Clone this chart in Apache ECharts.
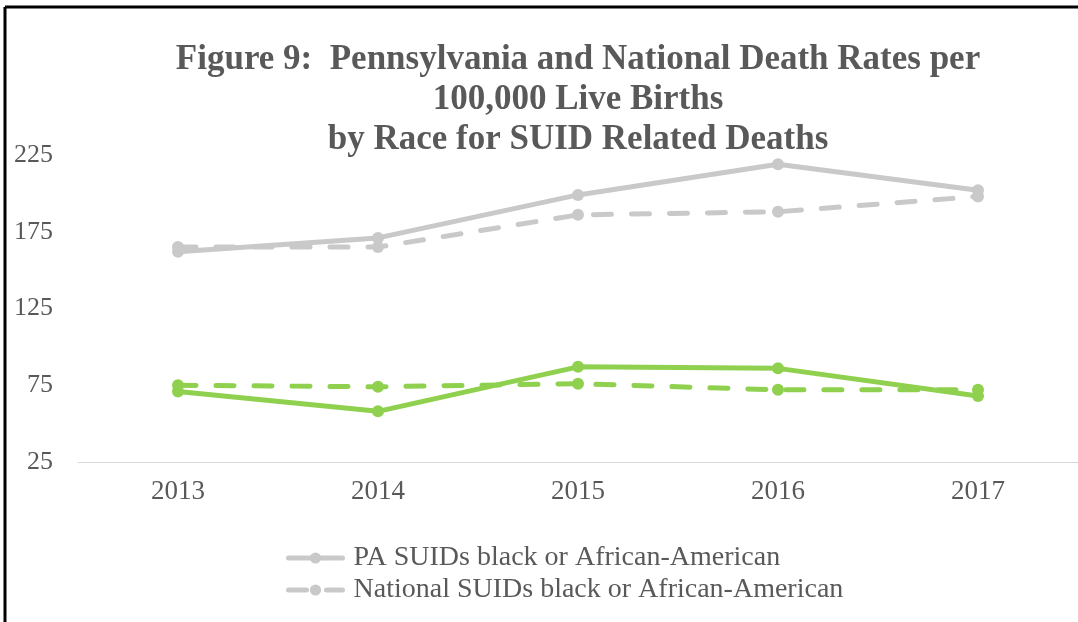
<!DOCTYPE html>
<html>
<head>
<meta charset="utf-8">
<script src="https://cdn.jsdelivr.net/npm/echarts@6/dist/echarts.min.js"></script>
<style>
  html, body { margin: 0; padding: 0; background: #fff; }
  #chart { width: 1078px; height: 622px; }
</style>
</head>
<body>
<div id="chart"></div>
<script>
// chart data
var years = ['2013', '2014', '2015', '2016', '2017']
var paBlack = [162, 171, 199, 219, 202]
var natBlack = [165, 165, 186, 188, 198]
var paWhite = [71, 58, 87, 86, 68]
var natWhite = [75, 74, 76, 72, 72]
var yTicks = [25, 75, 125, 175, 225]

var gray = '#c9c9c9'
var green = '#8fd14f'
var textColor = '#595959'
var serif = '"Liberation Serif", "Times New Roman", serif'

function lineSeries(name, data, color, dashed) {
  return {
    name: name,
    type: 'line',
    data: data,
    symbol: 'circle',
    symbolSize: 12,
    itemStyle: { color: color },
    lineStyle: {
      color: color,
      width: 5,
      type: dashed ? [18, 20] : 'solid',
      cap: 'round'
    },
    animation: false
  }
}

var chart = echarts.init(document.getElementById('chart'))
chart.setOption({
  backgroundColor: '#fff',
  title: {
    text: 'Figure 9:  Pennsylvania and National Death Rates per\n100,000 Live Births\nby Race for SUID Related Deaths',
    left: 573,
    top: 35,
    textAlign: 'center',
    textStyle: {
      fontFamily: serif,
      fontWeight: 'bold',
      fontSize: 35,
      lineHeight: 40,
      color: textColor
    }
  },
  graphic: [
    { type: 'line', shape: { x1: 5, y1: 7, x2: 1078, y2: 7 }, style: { stroke: '#000', lineWidth: 3 } },
    { type: 'line', shape: { x1: 5, y1: 7, x2: 5, y2: 622 }, style: { stroke: '#000', lineWidth: 3 } }
  ],
  grid: {
    left: 78,
    top: 155,
    width: 1005,
    bottom: 160
  },
  legend: {
    data: ['PA SUIDs black or African-American', 'National SUIDs black or African-American'],
    orient: 'vertical',
    left: 281,
    top: 538,
    itemWidth: 54,
    itemHeight: 14,
    itemGap: 2,
    lineStyle: { width: 5 },
    textStyle: {
      fontFamily: serif,
      fontSize: 28,
      lineHeight: 30,
      color: textColor,
      padding: [0, 0, 0, 6]
    }
  },
  xAxis: {
    type: 'category',
    data: years,
    boundaryGap: true,
    axisLine: { lineStyle: { color: '#d9d9d9', width: 1 } },
    axisTick: { show: false },
    axisLabel: {
      fontFamily: serif,
      fontSize: 27,
      color: textColor,
      margin: 16
    }
  },
  yAxis: {
    type: 'value',
    min: yTicks[0],
    max: yTicks[yTicks.length - 1],
    interval: 50,
    axisLine: { show: false },
    axisTick: { show: false },
    splitLine: { show: false },
    axisLabel: {
      fontFamily: serif,
      fontSize: 26,
      color: textColor,
      margin: 25
    }
  },
  series: [
    lineSeries('PA SUIDs black or African-American', paBlack, gray, false),
    lineSeries('National SUIDs black or African-American', natBlack, gray, true),
    lineSeries('PA SUIDs white', paWhite, green, false),
    lineSeries('National SUIDs white', natWhite, green, true)
  ]
})
</script>
</body>
</html>
